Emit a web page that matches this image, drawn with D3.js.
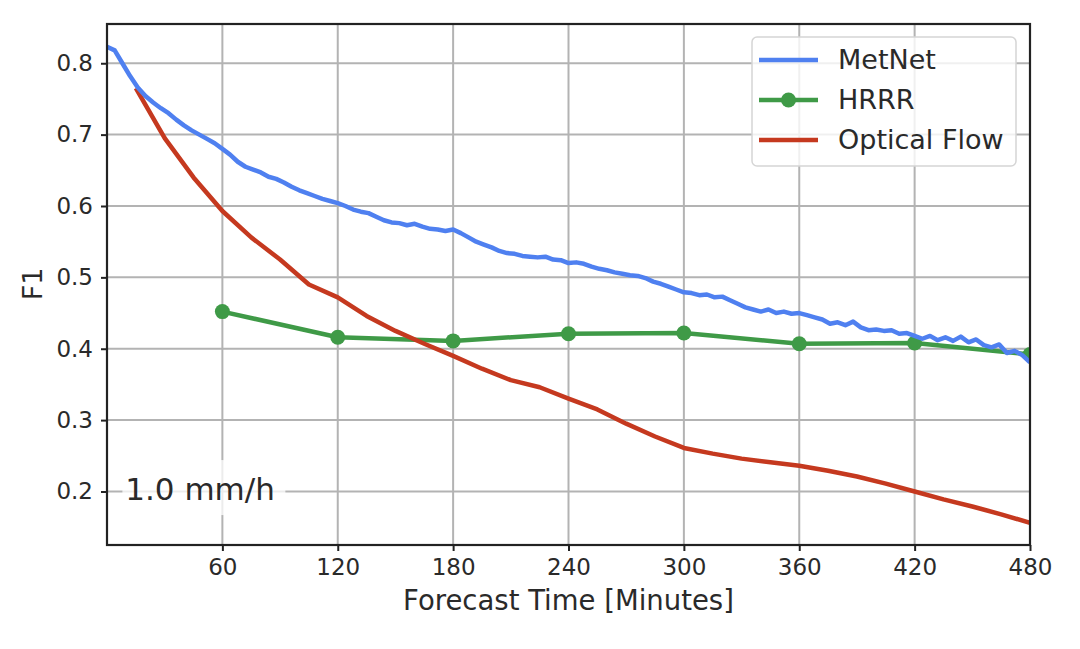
<!DOCTYPE html>
<html>
<head>
<meta charset="utf-8">
<script src="https://cdn.jsdelivr.net/npm/d3@7/dist/d3.min.js"></script>
<style>
  html, body { margin: 0; padding: 0; background: #fff; }
  svg { display: block; font-family: "DejaVu Sans", sans-serif; }
</style>
</head>
<body>
<svg id="chart" width="1080" height="649"></svg>
<script>
// ---------- data ----------
const metnetTimes = d3.range(0, 481, 4);
const metnetValues = [
  0.823, 0.818, 0.800, 0.782, 0.766, 0.754, 0.745, 0.737, 0.730, 0.721,
  0.713, 0.706, 0.700, 0.694, 0.688, 0.680, 0.672, 0.662, 0.655, 0.651,
  0.647, 0.641, 0.638, 0.633, 0.627, 0.622, 0.618, 0.614, 0.610, 0.607,
  0.604, 0.600, 0.595, 0.592, 0.590, 0.585, 0.580, 0.577, 0.576, 0.573,
  0.575, 0.571, 0.568, 0.567, 0.565, 0.567, 0.562, 0.556, 0.550, 0.546,
  0.542, 0.537, 0.534, 0.533, 0.530, 0.529, 0.528, 0.529, 0.525, 0.524,
  0.520, 0.521, 0.519, 0.515, 0.512, 0.510, 0.507, 0.505, 0.503, 0.502,
  0.499, 0.494, 0.491, 0.487, 0.483, 0.479, 0.478, 0.475, 0.476, 0.472,
  0.473, 0.468, 0.463, 0.458, 0.455, 0.452, 0.455, 0.450, 0.452, 0.449,
  0.450, 0.447, 0.444, 0.441, 0.435, 0.437, 0.433, 0.438, 0.430, 0.426,
  0.427, 0.425, 0.426, 0.421, 0.422, 0.418, 0.414, 0.418, 0.412, 0.416,
  0.411, 0.417, 0.409, 0.413, 0.405, 0.402, 0.406, 0.394, 0.397, 0.391,
  0.381
];

const hrrrTimes = [60, 120, 180, 240, 300, 360, 420, 480];
const hrrrValues = [0.452, 0.416, 0.411, 0.421, 0.422, 0.407, 0.408, 0.392];

const flowTimes = [15, 30, 45, 60, 75, 90, 105, 120, 135, 150, 165, 180, 195, 210, 225, 240,
                   255, 270, 285, 300, 315, 330, 345, 360, 375, 390, 405, 420, 435, 450, 465, 480];
const flowValues = [0.765, 0.695, 0.640, 0.593, 0.556, 0.525, 0.490, 0.472, 0.446, 0.425, 0.407, 0.390,
                    0.372, 0.356, 0.346, 0.330, 0.315, 0.295, 0.277, 0.261, 0.253, 0.246, 0.241, 0.236,
                    0.229, 0.221, 0.211, 0.200, 0.189, 0.179, 0.168, 0.156];

const xTicks = [60, 120, 180, 240, 300, 360, 420, 480];
const yTicks = [0.2, 0.3, 0.4, 0.5, 0.6, 0.7, 0.8];
const seriesNames = ["MetNet", "HRRR", "Optical Flow"];
const xLabel = "Forecast Time [Minutes]";
const yLabel = "F1";
const annotation = "1.0 mm/h";

// ---------- layout ----------
const W = 1080, H = 649;
const m = { left: 107, right: 50, top: 24, bottom: 104 };
const iw = W - m.left - m.right, ih = H - m.top - m.bottom;
const colors = { blue: "#4f80f0", green: "#3f9a47", red: "#c5391f" };
const textColor = "#2a2a2a";

const svg = d3.select("#chart");
const g = svg.append("g").attr("transform", `translate(${m.left},${m.top})`);

const x = d3.scaleLinear().domain([0, 480]).range([0, iw]);
const y = d3.scaleLinear().domain([0.125, 0.855]).range([ih, 0]);

svg.append("defs").append("clipPath").attr("id", "clip")
  .append("rect").attr("x", 0).attr("y", 0).attr("width", iw).attr("height", ih);

// grid
g.append("g").selectAll("line").data(xTicks).join("line")
  .attr("x1", d => x(d)).attr("x2", d => x(d)).attr("y1", 0).attr("y2", ih)
  .attr("stroke", "#b3b3b3").attr("stroke-width", 2);
g.append("g").selectAll("line").data(yTicks).join("line")
  .attr("y1", d => y(d)).attr("y2", d => y(d)).attr("x1", 0).attr("x2", iw)
  .attr("stroke", "#b3b3b3").attr("stroke-width", 2);

// axes
const xAxis = g.append("g").attr("transform", `translate(0,${ih})`)
  .call(d3.axisBottom(x).tickValues(xTicks).tickFormat(d3.format("d")).tickSize(6).tickPadding(8));
const yAxis = g.append("g")
  .call(d3.axisLeft(y).tickValues(yTicks).tickFormat(d3.format(".1f")).tickSize(6).tickPadding(8));
[xAxis, yAxis].forEach(a => {
  a.select(".domain").remove();
  a.selectAll(".tick line").attr("stroke", "#222").attr("stroke-width", 2);
  a.selectAll(".tick text").attr("fill", textColor).style("font-size", "23px")
    .style("font-family", "DejaVu Sans, sans-serif");
});

// lines
const plot = g.append("g").attr("clip-path", "url(#clip)");
const line = d3.line().x(d => x(d[0])).y(d => y(d[1]));

const hrrr = hrrrTimes.map((t, i) => [t, hrrrValues[i]]);
const flow = flowTimes.map((t, i) => [t, flowValues[i]]);
const metnet = metnetTimes.map((t, i) => [t, metnetValues[i]]);

plot.append("path").datum(hrrr).attr("d", line).attr("fill", "none")
  .attr("stroke", colors.green).attr("stroke-width", 4.5).attr("stroke-linejoin", "round");
plot.append("g").selectAll("circle").data(hrrr).join("circle")
  .attr("cx", d => x(d[0])).attr("cy", d => y(d[1])).attr("r", 7.5).attr("fill", colors.green);
plot.append("path").datum(flow).attr("d", line).attr("fill", "none")
  .attr("stroke", colors.red).attr("stroke-width", 4.5).attr("stroke-linejoin", "round");
plot.append("path").datum(metnet).attr("d", line).attr("fill", "none")
  .attr("stroke", colors.blue).attr("stroke-width", 4.5).attr("stroke-linejoin", "round");

// annotation box
const ann = g.append("g");
ann.append("rect").attr("x", x(8)).attr("y", y(0.244)).attr("width", 163).attr("height", 55)
  .attr("fill", "#fff").attr("fill-opacity", 0.75);
ann.append("text").attr("x", x(9.5)).attr("y", y(0.188)).text(annotation)
  .attr("fill", textColor).style("font-size", "31px");

// spines
g.append("rect").attr("x", 0).attr("y", 0).attr("width", iw).attr("height", ih)
  .attr("fill", "none").attr("stroke", "#222").attr("stroke-width", 2.2);

// axis labels
svg.append("text").attr("x", m.left + iw / 2).attr("y", 610).attr("text-anchor", "middle")
  .attr("fill", textColor).style("font-size", "27.5px").text(xLabel);
svg.append("text").attr("transform", `translate(42,284) rotate(-90)`).attr("text-anchor", "middle")
  .attr("fill", textColor).style("font-size", "27px").text(yLabel);

// legend
const lg = svg.append("g");
lg.append("rect").attr("x", 752).attr("y", 37).attr("width", 264).attr("height", 129)
  .attr("rx", 5).attr("fill", "#fff").attr("fill-opacity", 0.8)
  .attr("stroke", "#d5d5d5").attr("stroke-width", 1.5);
const legendItems = [
  { name: seriesNames[0], color: colors.blue, marker: false },
  { name: seriesNames[1], color: colors.green, marker: true },
  { name: seriesNames[2], color: colors.red, marker: false }
];
legendItems.forEach((it, i) => {
  const cy = 60 + i * 40;
  lg.append("line").attr("x1", 759).attr("x2", 818).attr("y1", cy).attr("y2", cy)
    .attr("stroke", it.color).attr("stroke-width", 4.5);
  if (it.marker) lg.append("circle").attr("cx", 788.5).attr("cy", cy).attr("r", 7.5).attr("fill", it.color);
  lg.append("text").attr("x", 838).attr("y", cy).attr("dy", "0.35em").text(it.name)
    .attr("fill", textColor).style("font-size", "27px");
});
</script>
</body>
</html>
